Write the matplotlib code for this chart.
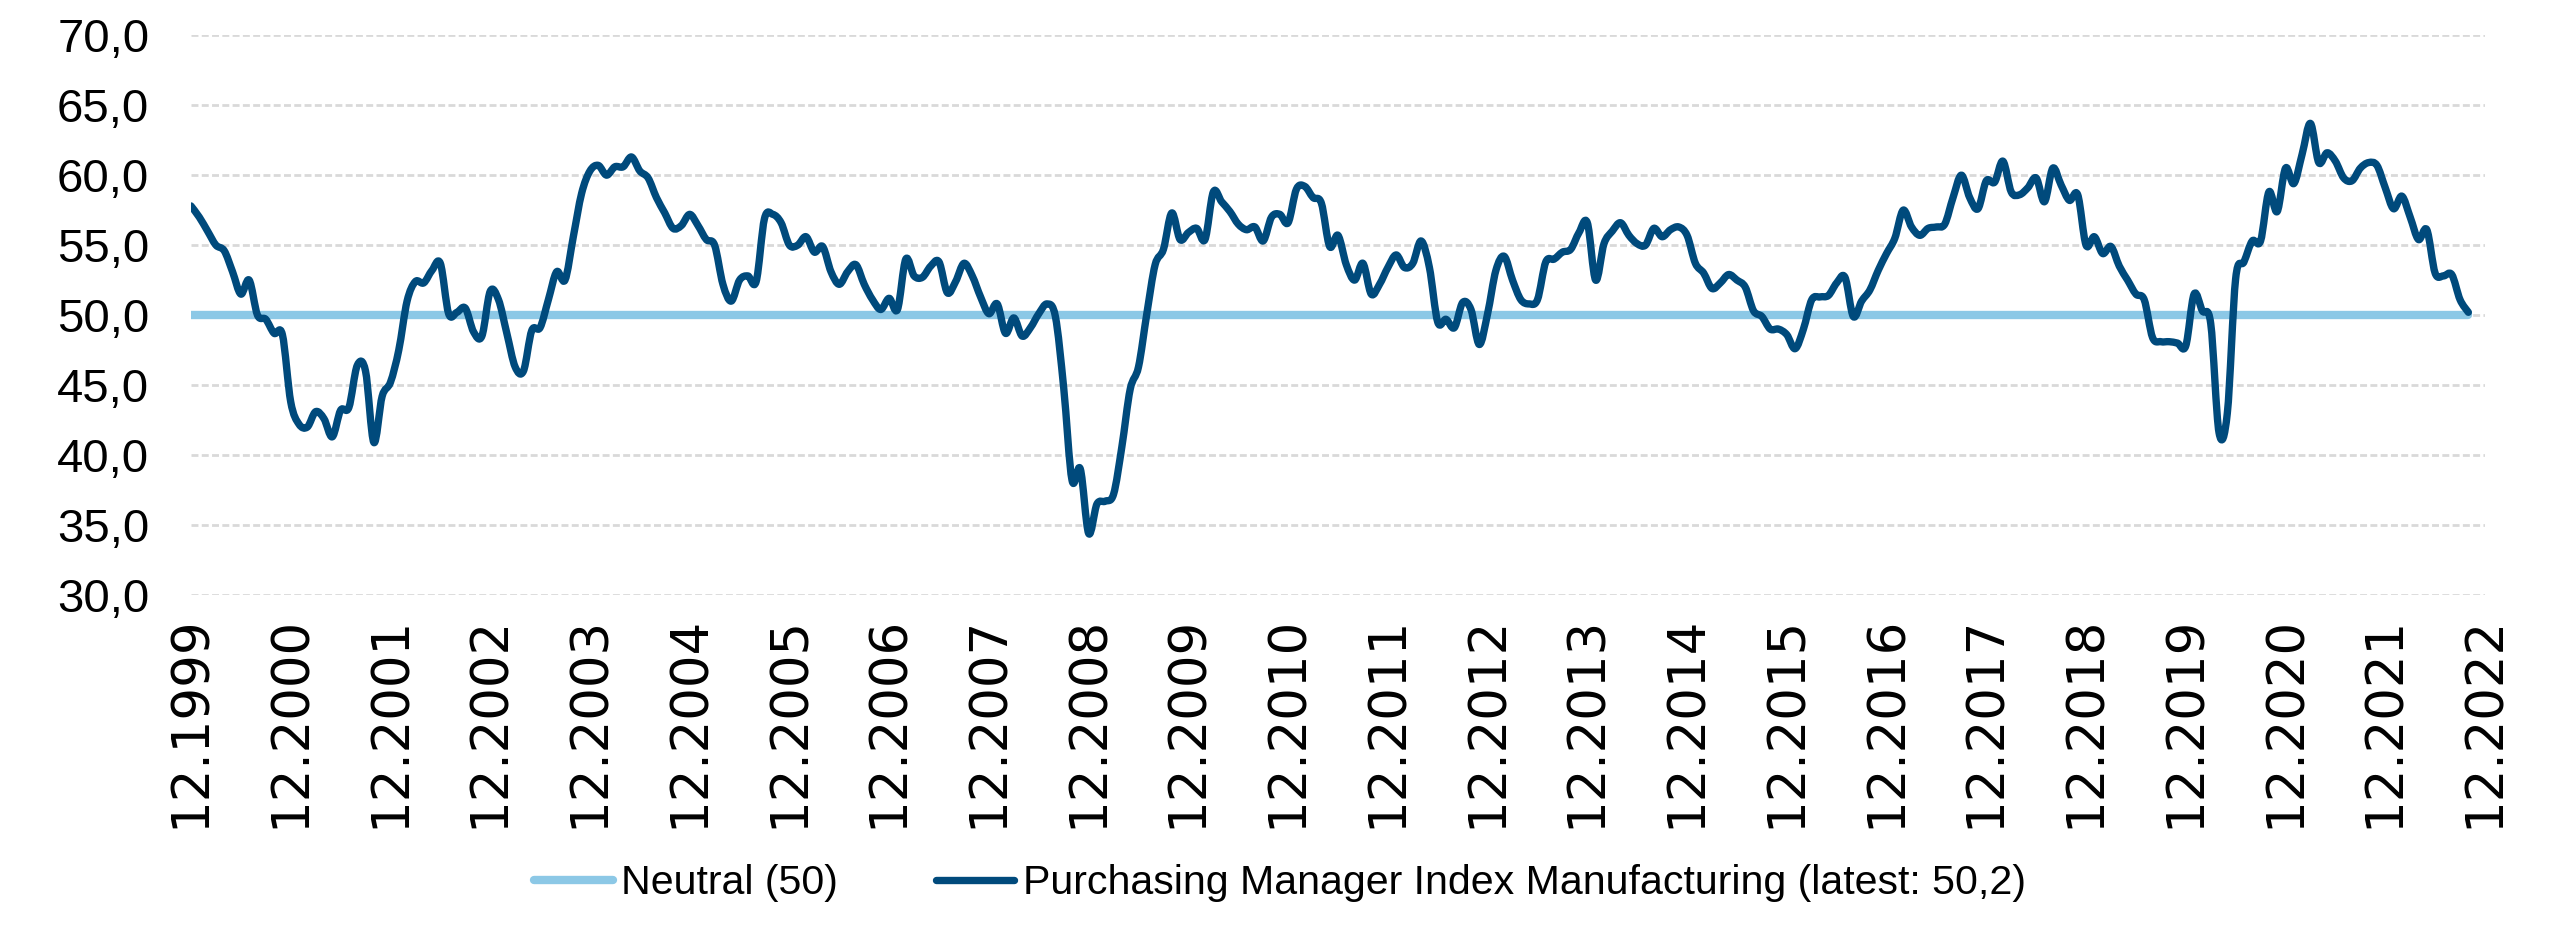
import numpy as np
import matplotlib
matplotlib.use("Agg")
import matplotlib.pyplot as plt
from matplotlib.path import Path
from matplotlib.patches import PathPatch
from matplotlib.lines import Line2D

plt.rcParams['font.family'] = ['Liberation Sans', 'DejaVu Sans']

# monthly values, 12.1999 .. 10.2022
pmi = [
    57.8, 57.0, 56.0, 55.0, 54.6, 53.1, 51.5, 52.5, 50.0, 49.7, 48.7, 48.6,
    43.8, 42.2, 42.0, 43.1, 42.6, 41.3, 43.2, 43.4, 46.4, 46.0, 40.9, 44.2,
    45.2, 47.5, 51.0, 52.4, 52.3, 53.2, 53.7, 50.1, 50.2, 50.5, 48.8, 48.5,
    51.7, 51.1, 48.7, 46.3, 46.0, 48.9, 49.1, 51.1, 53.1, 52.5, 55.6, 58.7,
    60.3, 60.7, 60.0, 60.6, 60.6, 61.3, 60.3, 59.8, 58.4, 57.3, 56.2, 56.4,
    57.2, 56.4, 55.4, 55.0, 52.2, 51.0, 52.5, 52.8, 52.4, 56.9, 57.2, 56.6,
    55.0, 55.0, 55.6, 54.5, 54.9, 53.1, 52.2, 53.1, 53.6, 52.2, 51.1, 50.4,
    51.2, 50.4, 54.0, 52.8, 52.7, 53.5, 53.8, 51.6, 52.4, 53.7, 52.8, 51.3,
    50.1, 50.8, 48.7, 49.8, 48.5, 49.1, 50.1, 50.8, 49.9, 44.8, 38.2, 39.0,
    34.4, 36.5, 36.7, 37.2, 40.6, 44.7, 46.3, 50.1, 53.6, 54.7, 57.3, 55.4,
    55.9, 56.2, 55.4, 58.8, 58.1, 57.4, 56.5, 56.1, 56.3, 55.3, 57.0, 57.2,
    56.6, 59.0, 59.2, 58.4, 58.0, 54.9, 55.7, 53.6, 52.5, 53.7, 51.5, 52.2,
    53.4, 54.3, 53.4, 53.7, 55.3, 53.4, 49.5, 49.7, 49.1, 50.9, 50.4, 47.9,
    50.1, 53.2, 54.2, 52.5, 51.1, 50.8, 51.1, 53.8, 54.0, 54.5, 54.7, 55.9,
    56.6, 52.5, 55.1, 56.0, 56.6, 55.7, 55.1, 55.0, 56.2, 55.6, 56.1, 56.3,
    55.7, 53.7, 53.0, 51.9, 52.3, 52.9, 52.5, 52.0, 50.3, 49.9, 49.0, 49.0,
    48.6, 47.6, 49.0, 51.1, 51.3, 51.4, 52.3, 52.7, 49.9, 51.0, 51.8, 53.2,
    54.4, 55.5, 57.5, 56.3, 55.7, 56.2, 56.3, 56.5, 58.4, 60.0, 58.4, 57.6,
    59.6, 59.5, 61.0, 58.8, 58.6, 59.1, 59.8, 58.1, 60.5, 59.3, 58.2, 58.6,
    55.0, 55.6, 54.4, 54.9, 53.5, 52.5, 51.5, 51.1, 48.4, 48.1, 48.1, 48.0,
    47.8, 51.5, 50.3, 49.4, 41.6, 43.0, 52.6, 53.8, 55.3, 55.3, 58.8, 57.4,
    60.5, 59.4, 61.5, 63.7, 60.9, 61.6, 61.0, 59.8, 59.6, 60.5, 60.9, 60.7,
    59.1, 57.6, 58.5, 57.0, 55.4, 56.1, 53.0, 52.8, 52.9, 51.1, 50.2,
]
neutral = [50.0] * len(pmi)
years = list(range(1999, 2023))
tick_labels = ["12." + str(y) for y in years]
y_ticks = [30, 35, 40, 45, 50, 55, 60, 65, 70]

dark = '#004A7C'
light = '#8CC8E6'


def smooth_path(xs, ys):
    # smoothed line like in the spreadsheet: bezier segments through the points
    pts = np.column_stack([xs, ys]).astype(float)
    verts = [pts[0]]
    codes = [Path.MOVETO]
    n = len(pts)
    for i in range(n - 1):
        p0 = pts[max(i - 1, 0)]
        p1 = pts[i]
        p2 = pts[i + 1]
        p3 = pts[min(i + 2, n - 1)]
        verts += [p1 + (p2 - p0) / 6.0, p2 - (p3 - p1) / 6.0, p2]
        codes += [Path.CURVE4] * 3
    return Path(verts, codes)


x = np.arange(len(pmi))

fig = plt.figure(figsize=(25.6, 9.42), dpi=100)
ax = fig.add_axes([0.0746, 0.3684, 0.8961, 0.5942])

ax.plot(x, neutral, color=light, lw=6, solid_capstyle='round', zorder=3)
ax.add_patch(PathPatch(smooth_path(x, pmi), facecolor='none', edgecolor=dark,
                       lw=5.3, capstyle='round', joinstyle='round', zorder=4))

ax.set_xlim(0, 12 * (len(years) - 1))
ax.set_ylim(30, 70)
ax.set_xticks(np.arange(len(years)) * 12)
ax.set_xticklabels(tick_labels, rotation=90, fontsize=37, family='DejaVu Sans')
ax.set_yticks(y_ticks)
ax.set_yticklabels(["%d,0" % v for v in y_ticks], fontsize=34)
ax.tick_params(axis='x', length=0, pad=15)
ax.tick_params(axis='y', length=0, pad=30)

ax.grid(axis='y', color='#D9D9D9', lw=2, linestyle=(0, (2.5, 1.2)), zorder=0)
ax.set_axisbelow(True)
for s in ax.spines.values():
    s.set_visible(False)

handles = [Line2D([], [], color=light, lw=6, solid_capstyle='round'),
           Line2D([], [], color=dark, lw=5.3, solid_capstyle='round')]
labels = ['Neutral (50)', 'Purchasing Manager Index Manufacturing (latest: 50,2)']
fig.legend(handles, labels, loc='center', bbox_to_anchor=(0.5, 0.0626), ncol=2,
           frameon=False, fontsize=29.6, handlelength=1.9, handletextpad=0.2,
           columnspacing=2.4)

fig.savefig('out.png', dpi=100)
